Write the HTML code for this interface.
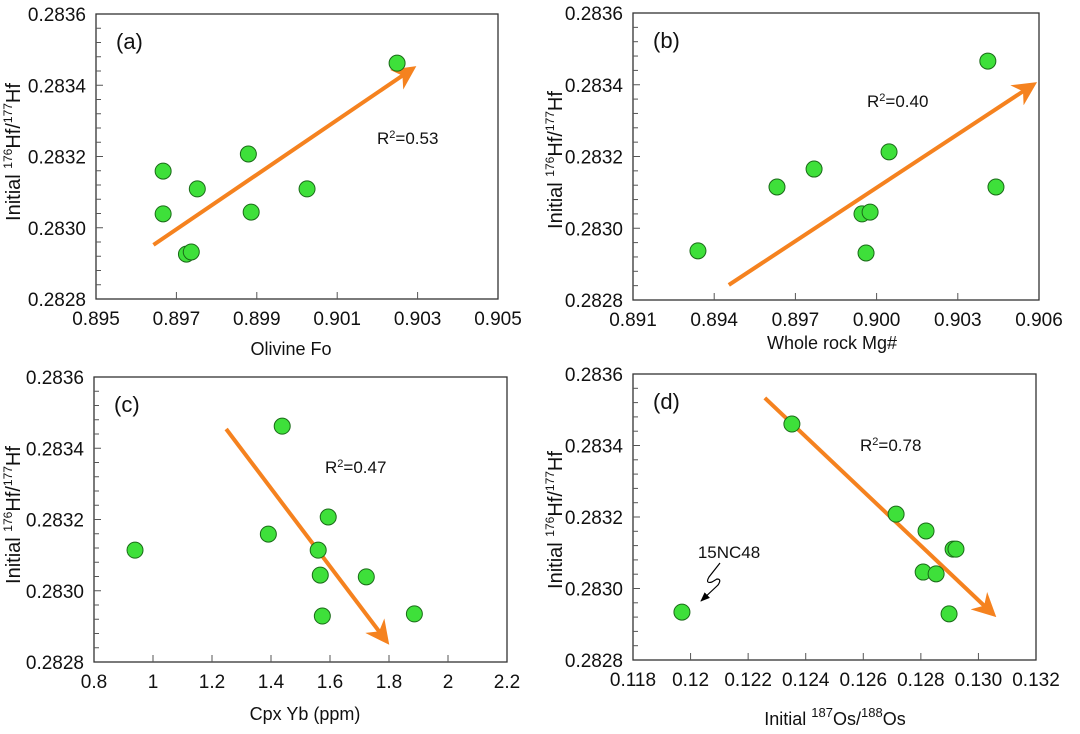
<!DOCTYPE html>
<html><head><meta charset="utf-8"><style>
html,body{margin:0;padding:0;background:#fff;}
svg{display:block;font-family:"Liberation Sans",Arial,sans-serif;}
</style></head><body>
<svg id="chart" width="1080" height="734" viewBox="0 0 1080 734"></svg>
<script>
// Panel (a) data
const aX = [0.90249,0.89667,0.89667,0.89752,0.89725,0.89737,0.89879,0.89886,0.90025];
const aY = [0.283462,0.283159,0.283039,0.283109,0.282926,0.282932,0.283207,0.283044,0.283109];
const aArrow = [0.89643,0.282952,0.90287,0.283446];
const aXTicks = [0.895,0.897,0.899,0.901,0.903,0.905];
const aXLabels = ["0.895","0.897","0.899","0.901","0.903","0.905"];
// Panel (b) data
const bX = [0.90411,0.89632,0.89769,0.90046,0.89946,0.89976,0.89961,0.89340,0.90441];
const bY = [0.283466,0.283115,0.283165,0.283213,0.283040,0.283045,0.282931,0.282937,0.283115];
const bArrow = [0.89454,0.282842,0.90578,0.283400];
const bXTicks = [0.891,0.894,0.897,0.900,0.903,0.906];
const bXLabels = ["0.891","0.894","0.897","0.900","0.903","0.906"];
// Panel (c) data
const cX = [1.438,1.594,1.391,0.939,1.560,1.567,1.723,1.574,1.886];
const cY = [0.283462,0.283207,0.283159,0.283114,0.283114,0.283044,0.283039,0.282929,0.282935];
const cArrow = [1.248,0.283454,1.791,0.282859];
const cXTicks = [0.8,1.0,1.2,1.4,1.6,1.8,2.0,2.2];
const cXLabels = ["0.8","1","1.2","1.4","1.6","1.8","2","2.2"];
// Panel (d) data
const dX = [0.12352,0.12714,0.12818,0.12912,0.12922,0.12808,0.12853,0.12898,0.11970];
const dY = [0.28346,0.283208,0.283161,0.28311,0.28311,0.283046,0.283041,0.282929,0.282934];
const dArrow = [0.12258,0.283533,0.13050,0.282929];
const dXTicks = [0.118,0.120,0.122,0.124,0.126,0.128,0.130,0.132];
const dXLabels = ["0.118","0.12","0.122","0.124","0.126","0.128","0.130","0.132"];
// Shared y axis
const yMajor = [0.2828,0.2830,0.2832,0.2834,0.2836];
const yLabels = ["0.2828","0.2830","0.2832","0.2834","0.2836"];

const NS="http://www.w3.org/2000/svg";
const svg=document.getElementById('chart');
function mk(tag,attrs,parent){const e=document.createElementNS(NS,tag);for(const k in attrs)e.setAttribute(k,attrs[k]);(parent||svg).appendChild(e);return e;}

const defs=mk('defs',{});
const mrk=mk('marker',{id:'ah',viewBox:'0 0 10 10',refX:'8',refY:'5',markerWidth:'6',markerHeight:'6',orient:'auto',markerUnits:'strokeWidth'},defs);
mk('path',{d:'M0,0 L10,5 L0,10 L3,5 Z',fill:'#f5821f'},mrk);
const mrk2=mk('marker',{id:'bh',viewBox:'0 0 10 10',refX:'9',refY:'5',markerWidth:'8',markerHeight:'8',orient:'auto'},defs);
mk('path',{d:'M0,1 L10,5 L0,9 Z',fill:'#000'},mrk2);

function panel(cfg){
  const g=mk('g',{});
  
  
  const {x0,x1,y0,y1,xmin,xmax}=cfg;
  const sx=v=>x0+(v-xmin)/(xmax-xmin)*(x1-x0);
  const sy=v=>y1-(v-0.2828)/(0.0008)*(y1-y0);
  const fr=mk('rect',{x:x0,y:y0,width:x1-x0,height:y1-y0,fill:'none',stroke:'#333',"stroke-width":1.3},g);
  
  
  for(let i=1;i<20;i++){
    const v=0.2828+i*0.00004; const y=sy(v);
    const t=mk('line',{x1:x0,x2:x0+(i%5===0?7:5),y1:y,y2:y,stroke:'#555',"stroke-width":1},g);
    
    
  }
  yMajor.forEach((v,i)=>{
    const t=mk('text',{x:x0-10,y:sy(v)+7,"text-anchor":'end',"font-size":19,fill:'#111'},g);
    t.textContent=yLabels[i];
    
    
  });
  cfg.xt.forEach((v,i)=>{
    const x=sx(v);
    if(i>0&&i<cfg.xt.length-1){
      const l=mk('line',{x1:x,x2:x,y1:y1,y2:y1-7,stroke:'#555',"stroke-width":1},g);
      
      
    }
    const t=mk('text',{x:x,y:y1+26,"text-anchor":'middle',"font-size":19,fill:'#111'},g);
    t.textContent=cfg.xl[i];
    
    
  });
  const xt=mk('text',{x:cfg.xtx,y:cfg.xty,"text-anchor":'middle',"font-size":18,fill:'#111'},g);
  xt.innerHTML=cfg.xtitle;
  
  
  const yt=mk('text',{x:0,y:0,"text-anchor":'middle',"font-size":20,fill:'#111',transform:`translate(${cfg.ytx},${cfg.yty}) rotate(-90)`},g);
  yt.innerHTML='Initial <tspan font-size="12" dy="-8">176</tspan><tspan dy="8">Hf/</tspan><tspan font-size="12" dy="-8">177</tspan><tspan dy="8">Hf</tspan>';
  
  
  const pl=mk('text',{x:x0+20,y:y0+35,"font-size":22,fill:'#111'},g);
  pl.textContent=cfg.label;
  
  
  const r=mk('text',{x:cfg.rx,y:cfg.ry,"font-size":17,fill:'#111'},g);
  r.innerHTML='R<tspan font-size="11" dy="-6">2</tspan><tspan dy="6">='+cfg.r2+'</tspan>';
  
  
  const A=cfg.arrow;
  const ar=mk('line',{x1:sx(A[0]),y1:sy(A[1]),x2:sx(A[2]),y2:sy(A[3]),stroke:'#f5821f',"stroke-width":4,"marker-end":'url(#ah)'},g);
  
  
  cfg.xs.forEach((v,i)=>{
    const c=mk('circle',{cx:sx(v),cy:sy(cfg.ys[i]),r:8,fill:'#3ee03a',stroke:'#1a6a18',"stroke-width":1},g);
    
    
  });
  return {g,sx,sy};
}

panel({name:'panel-a-olivine-fo',label:'(a)',x0:96,x1:498,y0:14,y1:299,xmin:0.895,xmax:0.905,xt:aXTicks,xl:aXLabels,
  xs:aX,ys:aY,arrow:aArrow,r2:'0.53',rx:377,ry:144,xtitle:'Olivine Fo',xtx:291,xty:355,ytx:20,yty:152});
panel({name:'panel-b-whole-rock-mg',label:'(b)',x0:633,x1:1039,y0:13,y1:300,xmin:0.891,xmax:0.906,xt:bXTicks,xl:bXLabels,
  xs:bX,ys:bY,arrow:bArrow,r2:'0.40',rx:867,ry:107,xtitle:'Whole rock Mg#',xtx:832,xty:349,ytx:562,yty:160});
panel({name:'panel-c-cpx-yb',label:'(c)',x0:94,x1:507,y0:377,y1:662,xmin:0.8,xmax:2.2,xt:cXTicks,xl:cXLabels,
  xs:cX,ys:cY,arrow:cArrow,r2:'0.47',rx:325,ry:473,xtitle:'Cpx Yb (ppm)',xtx:305,xty:720,ytx:20,yty:515});
const pd=panel({name:'panel-d-os-isotope',label:'(d)',x0:633,x1:1036,y0:374,y1:660,xmin:0.118,xmax:0.132,xt:dXTicks,xl:dXLabels,
  xs:dX,ys:dY,arrow:dArrow,r2:'0.78',rx:860,ry:451,xtitle:'Initial <tspan font-size="13" dy="-8">187</tspan><tspan dy="8">Os/</tspan><tspan font-size="13" dy="-8">188</tspan><tspan dy="8">Os</tspan>',xtx:835,xty:725,ytx:562,yty:520});
const lab=mk('text',{x:729,y:558,"text-anchor":'middle',"font-size":17,fill:'#111'},pd.g);
lab.textContent='15NC48';


const sq=mk('path',{d:'M720,563 L709,577 Q705,584 712,582 L717,579 Q722,579 718,585 L701,601',fill:'none',stroke:'#000',"stroke-width":1.2,"marker-end":'url(#bh)'},pd.g);


</script>
</body></html>
